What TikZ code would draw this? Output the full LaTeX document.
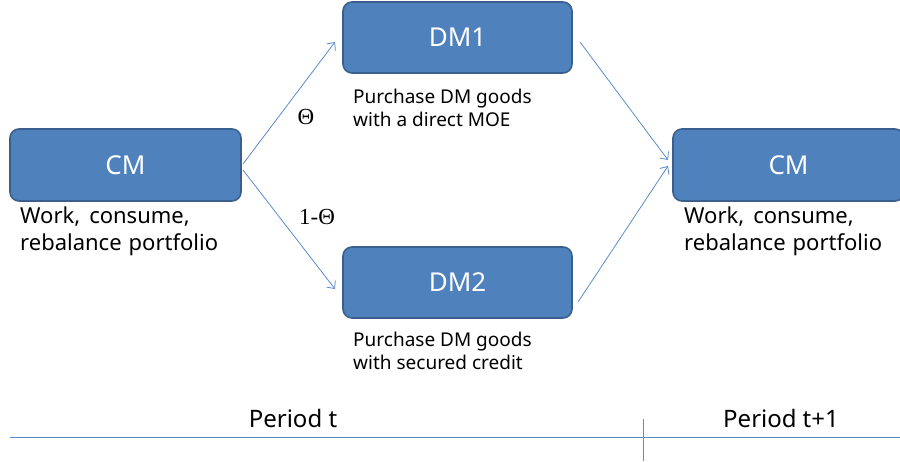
\documentclass[tikz,border=0pt]{standalone}
\usepackage{fontspec}
\setmainfont{Noto Sans}
\newfontfamily\greekfont{Liberation Serif}
\usetikzlibrary{arrows.meta}
\definecolor{boxfill}{HTML}{4F81BD}
\definecolor{boxedge}{HTML}{3A5F8C}
\definecolor{linkblue}{HTML}{5B8CC8}
\tikzset{
  market/.style={draw=boxedge, line width=1.6pt, fill=boxfill, rounded corners=9pt,
    text=white, font=\fontsize{26}{26}\selectfont, inner sep=0pt},
  note/.style={anchor=north west, align=left, inner sep=0pt, text=black},
  flow/.style={draw=linkblue, line width=0.8pt, -{Straight Barb[length=6pt,width=11pt]}},
  prob/.style={font=\greekfont\fontsize{23}{23}\selectfont, inner sep=0pt},
  axis/.style={draw=linkblue, line width=0.9pt}
}
\begin{document}
\begin{tikzpicture}[x=1pt,y=-1pt]
\useasboundingbox (0,0) rectangle (900,462);
% market nodes
\node[market, minimum width=231pt, minimum height=72pt] (cm1) at (125.5,165) {CM};
\node[market, minimum width=229pt, minimum height=71pt] (dm1) at (457.5,37.5) {DM1};
\node[market, minimum width=229pt, minimum height=71pt] (dm2) at (457.5,282.5) {DM2};
\node[market, minimum width=231pt, minimum height=72pt] (cm2) at (788.5,165) {CM};
% descriptions under the boxes
\node[note, font=\fontsize{22}{27}\selectfont] (cm1txt) at (20,207) {Work,\hspace{9pt}consume,\\rebalance\hspace{7pt}portfolio};
\node[note, font=\fontsize{19}{22.5}\selectfont] (dm1txt) at (353,89) {Purchase DM\ goods\\with a direct MOE};
\node[note, font=\fontsize{19}{22.5}\selectfont] (dm2txt) at (353,332) {Purchase DM\ goods\\with secured credit};
\node[note, font=\fontsize{22}{27}\selectfont] (cm2txt) at (684,207) {Work,\hspace{9pt}consume,\\rebalance\hspace{7pt}portfolio};
% transitions
\coordinate (a1) at (243,164);
\coordinate (a2) at (243,170);
\coordinate (b1) at (335,42);
\coordinate (b2) at (335,289);
\coordinate (c1) at (580,42);
\coordinate (c2) at (578,302);
\coordinate (d1) at (668,160);
\coordinate (d2) at (668,166);
\draw[flow] (a1) -- (b1);
\draw[flow] (a2) -- (b2);
\draw[flow] (c1) -- (d1);
\draw[flow] (c2) -- (d2);
\node[prob] (theta) at (306,117) {Θ};
\node[prob] (onetheta) at (317,217) {1-Θ};
% time line
\coordinate (l0) at (10,437);
\coordinate (l1) at (900,437);
\coordinate (t0) at (643,419);
\coordinate (t1) at (643,461);
\draw[axis] (l0) -- (l1);
\draw[axis, line width=0.7pt] (t0) -- (t1);
\node[font=\fontsize{24}{24}\selectfont, inner sep=0pt] (pt) at (293,418) {Period t};
\node[font=\fontsize{24}{24}\selectfont, inner sep=0pt] (pt1) at (781,418) {Period\hspace{6pt}t+1};
\end{tikzpicture}
\end{document}
